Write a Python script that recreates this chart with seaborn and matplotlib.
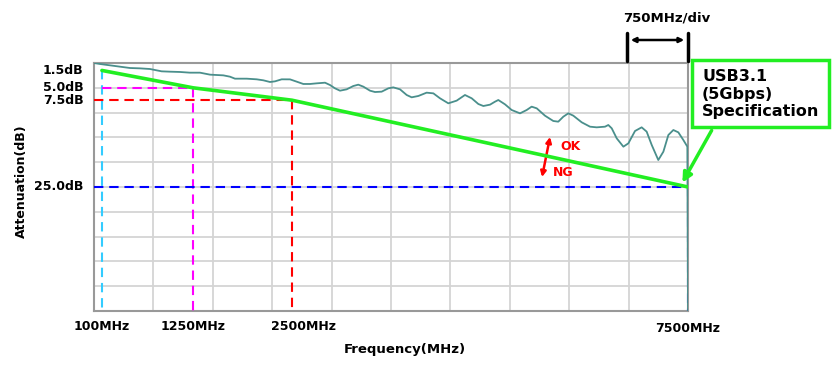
import matplotlib
matplotlib.use("Agg")
import matplotlib.pyplot as plt
from matplotlib.patches import Rectangle, FancyArrowPatch
import seaborn as sns
import pandas as pd

# ---- data ----
meas_freq = [0, 76, 202, 328, 455, 581, 707, 791, 854, 960, 1086, 1212, 1338, 1402, 1465,
             1633, 1717, 1780, 1928, 2054, 2138, 2222, 2285, 2370, 2475, 2559, 2643, 2727,
             2812, 2917, 2980, 3043, 3106, 3190, 3274, 3337, 3401, 3485, 3548, 3632, 3716,
             3779, 3864, 3948, 4011, 4095, 4200, 4285, 4369, 4474, 4579, 4684, 4769, 4853,
             4916, 5000, 5063, 5105, 5189, 5274, 5379, 5463, 5526, 5590, 5694, 5799, 5862,
             5926, 5989, 6052, 6158, 6263, 6347, 6452, 6494, 6537, 6600, 6684, 6747, 6831,
             6915, 6978, 7042, 7125, 7189, 7252, 7315, 7378, 7441, 7492, 7500]
meas_att = [0.0, 0.2, 0.47, 0.74, 1.01, 1.08, 1.21, 1.48, 1.68, 1.75, 1.81, 1.95, 1.95, 2.15,
            2.35, 2.49, 2.76, 3.16, 3.16, 3.29, 3.49, 3.83, 3.70, 3.29, 3.3, 3.76, 4.23, 4.23,
            4.10, 3.97, 4.44, 5.11, 5.58, 5.31, 4.64, 4.37, 4.77, 5.58, 5.85, 5.78, 5.11,
            4.91, 5.31, 6.45, 6.92, 6.65, 5.98, 6.12, 7.12, 8.13, 7.59, 6.45, 7.12, 8.27,
            8.67, 8.40, 7.80, 7.46, 8.33, 9.48, 10.15, 9.48, 8.80, 9.14, 10.62, 11.69, 11.83,
            10.82, 10.15, 10.62, 11.96, 12.84, 12.97, 12.84, 12.5, 13.17, 15.19, 16.87, 16.2,
            13.71, 12.97, 13.84, 16.53, 19.56, 17.88, 14.52, 13.51, 13.98, 15.52, 16.87, 50.0]
spec_freq = [100, 1250, 2500, 7500]
spec_att = [1.5, 5.0, 7.5, 25.0]
spec_colors = ["#33ccff", "#ff00ff", "#ff0000", "#0000ff"]
x_tick_labels = ["100MHz", "1250MHz", "2500MHz", "7500MHz"]
y_tick_labels = ["1.5dB", "5.0dB", "7.5dB", "25.0dB"]
x_grid = list(range(0, 7501, 750))
y_grid = list(range(0, 51, 5))
box_text = "USB3.1\n(5Gbps)\nSpecification"
div_text = "750MHz/div"

sns.set_theme(style="white")
plt.rcParams['font.family'] = ['DejaVu Sans']
plt.rcParams['text.color'] = 'black'

W, H = 840, 373
fig = plt.figure(figsize=(W / 100, H / 100), dpi=100)
def fx(px): return px / W
def fy(py): return 1 - py / H

ax = fig.add_axes([fx(94), fy(311), fx(688) - fx(94), (311 - 63) / H])
ax.set_xlim(0, 7500)
ax.set_ylim(50, 0)

ax.set_xticks(x_grid)
ax.set_yticks(y_grid)
ax.set_xticklabels([])
ax.set_yticklabels([])
ax.tick_params(length=0)
ax.grid(True, color="#d4d4d4", lw=1.3)
for s in ax.spines.values():
    s.set_color("#999999")
    s.set_linewidth(1.5)

# dashed guide lines
dash = (0, (4.5, 2.8))
for i, (f, a, c) in enumerate(zip(spec_freq, spec_att, spec_colors)):
    x0 = 100 if i == 1 else 0
    if i > 0:
        ax.plot([x0, f], [a, a], color=c, lw=1.5, ls=dash, zorder=3)
    ax.plot([f, f], [a, 50], color=c, lw=1.5, ls=dash, zorder=3)

meas = pd.DataFrame({"freq": meas_freq, "att": meas_att})
sns.lineplot(data=meas, x="freq", y="att", color="#4a8f8c", lw=1.3, ax=ax, zorder=4,
             sort=False, estimator=None)
spec = pd.DataFrame({"freq": spec_freq, "att": spec_att})
sns.lineplot(data=spec, x="freq", y="att", color="#22ee22", lw=2.6, ax=ax, zorder=5,
             sort=False, estimator=None)
ax.set_xlabel("")
ax.set_ylabel("")

# tick labels as text
x_offsets = [0, 0, 150, 0]
x_ypix = [326, 326, 326, 329]
for f, lab, off, yp in zip(spec_freq, x_tick_labels, x_offsets, x_ypix):
    fig.text(fx(94 + (f + off) * 594 / 7500), fy(yp), lab, ha="center", va="center",
             fontsize=9, fontweight="bold", color="black")
for a, lab in zip(spec_att, y_tick_labels):
    ax.text(-0.018, a, lab, transform=ax.get_yaxis_transform(), ha="right", va="center",
            fontsize=9, fontweight="bold", color="black")

fig.text(fx(405), fy(349), "Frequency(MHz)", ha="center", va="center",
         fontsize=9.5, fontweight="bold")
fig.text(fx(21), fy(181), "Attenuation(dB)", ha="center", va="center", rotation=90,
         fontsize=9, fontweight="bold")

# OK / NG arrow
ax.annotate("", xy=(5758, 14.9), xytext=(5657, 23.0),
            arrowprops=dict(arrowstyle="<|-|>", color="#ff0000", lw=1.8,
                            mutation_scale=8, shrinkA=0, shrinkB=0))
ax.text(5884, 16.9, "OK", color="#ff0000", fontsize=9, fontweight="bold",
        ha="left", va="center")
ax.text(5795, 22.0, "NG", color="#ff0000", fontsize=9, fontweight="bold",
        ha="left", va="center")

# spec box
fig.patches.append(Rectangle((fx(692), fy(127)), fx(829) - fx(692), (127 - 60) / H,
                             transform=fig.transFigure, fill=True, facecolor="white",
                             edgecolor="#22ee22", lw=2.5, zorder=10))
fig.text(fx(702), fy(94), box_text, ha="left", va="center", fontsize=11.5,
         fontweight="bold", linespacing=1.2, zorder=11)
fig.patches.append(FancyArrowPatch((fx(713), fy(128)), (fx(681), fy(185)),
                                   transform=fig.transFigure, arrowstyle="-|>",
                                   mutation_scale=14, color="#22ee22", lw=2.5, zorder=10))

# 750MHz/div bracket
for px in (627, 688):
    fig.add_artist(plt.Line2D([fx(px), fx(px)], [fy(33), fy(61)], color="black", lw=2.5,
                              transform=fig.transFigure))
fig.patches.append(FancyArrowPatch((fx(628), fy(40)), (fx(687), fy(40)),
                                   transform=fig.transFigure, arrowstyle="<|-|>",
                                   mutation_scale=7, color="black", lw=1.8))
fig.text(fx(667), fy(18), div_text, ha="center", va="center", fontsize=9.5,
         fontweight="bold")

fig.savefig("out.png", dpi=100, facecolor="white")
